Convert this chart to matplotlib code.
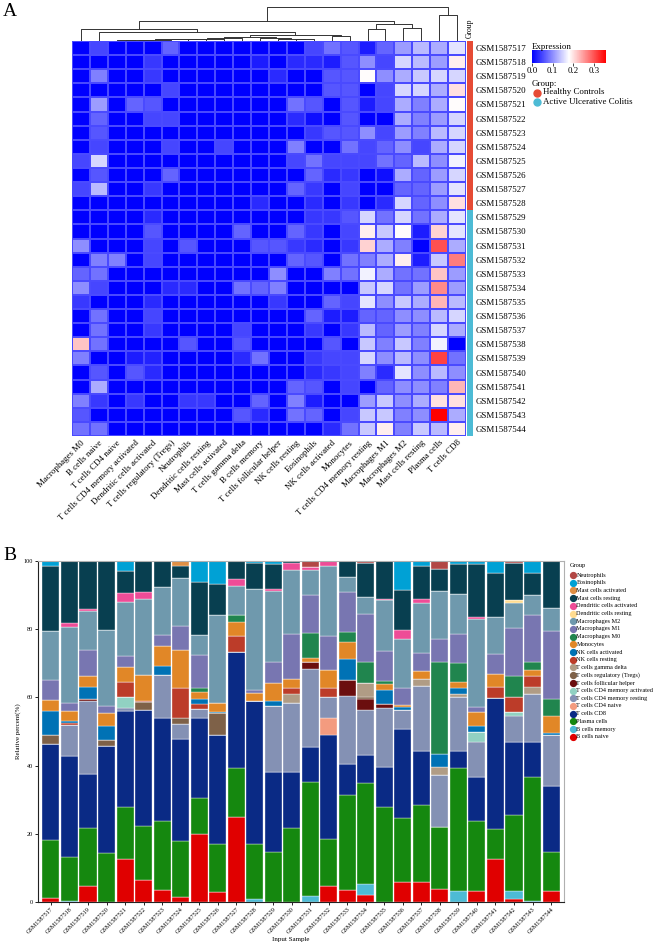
import numpy as np
import matplotlib
matplotlib.use("Agg")
import matplotlib.pyplot as plt
from matplotlib.colors import LinearSegmentedColormap, ListedColormap, Normalize
from matplotlib.cm import ScalarMappable

plt.rcParams['font.family'] = ['Liberation Serif', 'DejaVu Serif']

samples = ['GSM15875%d' % i for i in range(17, 45)]
groups = [0] * 12 + [1] * 16
group_names = ['Healthy Controls', 'Active Ulcerative Colitis']
group_colors = ['#E64B35', '#4DBBD5']

# heatmap columns, in dendrogram order
heat_cols = ['Macrophages M0', 'B cells naive', 'T cells CD4 naive',
             'T cells CD4 memory activated', 'Dendritic cells activated',
             'T cells regulatory (Tregs)', 'Neutrophils', 'Dendritic cells resting',
             'Mast cells activated', 'T cells gamma delta', 'B cells memory',
             'T cells follicular helper', 'NK cells resting', 'Eosinophils',
             'NK cells activated', 'Monocytes', 'T cells CD4 memory resting',
             'Macrophages M1', 'Macrophages M2', 'Mast cells resting',
             'Plasma cells', 'T cells CD8']

# expression (rows = samples)
heat_values = [
    [0, .05, 0, 0, 0, .07, 0, 0, 0, 0, 0, 0, 0, .05, .08, .06, .02, .07, .11, .13, .12, .16],
    [0, 0, 0, 0, .04, 0, 0, 0, 0, 0, .02, 0, .03, .03, .02, .06, .10, .05, .15, .13, .11, .19],
    [0, .09, 0, 0, .04, 0, 0, 0, 0, 0, 0, .03, 0, 0, .06, .06, .18, .10, .12, .14, .15, .15],
    [0, 0, 0, 0, 0, .05, 0, 0, 0, 0, 0, 0, 0, 0, .06, .06, 0, .05, .15, .15, .12, .20],
    [0, .11, 0, .07, .06, 0, 0, 0, 0, 0, 0, 0, .08, .06, 0, .06, .02, .05, .12, .09, .12, .18],
    [0, .07, 0, 0, .05, .05, 0, 0, 0, 0, 0, 0, .03, .01, 0, .06, 0, 0, .12, .09, .11, .15],
    [0, .06, 0, 0, 0, 0, 0, 0, 0, 0, 0, 0, 0, .04, .06, .06, .10, .05, .11, .09, .13, .15],
    [0, .05, 0, 0, 0, .05, 0, 0, .05, 0, 0, 0, .09, 0, 0, .08, .05, .07, .10, .05, .12, .15],
    [.05, .15, 0, 0, 0, 0, 0, 0, 0, 0, 0, 0, .05, .08, .05, .05, .05, .08, .07, .13, .10, .17],
    [0, .06, 0, 0, 0, .07, 0, 0, 0, 0, 0, 0, 0, .07, .03, .04, 0, .01, .12, .07, .11, .15],
    [.05, .13, 0, 0, .04, 0, 0, 0, 0, 0, 0, 0, .07, .04, 0, .05, 0, 0, .07, .07, .11, .16],
    [0, 0, 0, 0, 0, 0, 0, 0, 0, 0, .03, 0, 0, .03, 0, .04, 0, .03, .15, .07, .10, .20],
    [0, 0, 0, 0, .03, 0, 0, 0, 0, 0, 0, 0, 0, .04, .04, .06, .15, .08, .15, .08, .12, .16],
    [0, 0, 0, 0, .06, 0, 0, 0, 0, .07, 0, 0, .07, .04, 0, .05, .19, .14, .18, .02, .21, .16],
    [.10, 0, 0, 0, .05, 0, .06, 0, 0, 0, .06, .06, .04, .03, 0, .04, .21, .12, .09, 0, .30, .12],
    [0, .09, .09, 0, .05, 0, 0, 0, 0, 0, 0, 0, .07, .06, 0, .08, .09, .12, .19, .02, .14, .27],
    [.07, .08, 0, 0, 0, 0, 0, 0, 0, 0, 0, .10, 0, 0, .09, .08, .17, .12, .08, .08, .22, .11],
    [.10, .05, 0, 0, 0, .03, .03, 0, 0, .08, .07, .09, 0, 0, 0, 0, .14, .15, .08, .11, .26, .11],
    [.04, 0, 0, 0, .03, 0, 0, 0, 0, 0, 0, .04, 0, 0, .07, .05, .16, .10, .14, .12, .23, .13],
    [0, .08, 0, 0, .05, 0, 0, 0, 0, 0, 0, 0, 0, .07, .02, .02, .07, .07, .10, .10, .13, .15],
    [0, .08, 0, 0, .04, 0, 0, 0, 0, .05, 0, 0, 0, .04, 0, .04, .13, .07, .11, .09, .15, .12],
    [.22, .08, 0, 0, 0, 0, .06, 0, 0, .06, 0, 0, 0, 0, .06, 0, .14, .09, .14, .09, .17, 0],
    [.09, 0, 0, .02, .025, 0, 0, 0, 0, .03, .08, 0, 0, .04, .05, .05, .15, .10, .13, .10, .31, .08],
    [0, .06, 0, .06, .03, 0, 0, 0, 0, 0, 0, 0, 0, .03, .04, .05, .09, .03, .16, .10, .13, .10],
    [0, .12, 0, 0, 0, 0, 0, 0, 0, 0, 0, 0, .07, .06, 0, .05, 0, .07, .10, .10, .09, .23],
    [.09, .04, 0, .04, 0, 0, .04, .04, 0, 0, .07, 0, .09, .02, 0, 0, .11, .14, .10, .12, .20, .20],
    [.06, 0, 0, 0, 0, 0, 0, 0, 0, .06, .03, 0, .08, .07, 0, .05, .14, .14, .09, .10, .36, .12],
    [.08, .08, 0, 0, 0, 0, 0, 0, 0, 0, 0, 0, 0, 0, .03, .08, .14, .19, .09, .14, .13, .19],
]

# column dendrogram: (left, right, height), leaves are column indices
chain = (((((((2, 3, 1.0), 4, 1.3), 5, 1.5), 6, 1.7), 7, 2.0), 8, 2.3), 9, 2.7)
right_low = (10, (11, (12, 13, 2.0), 2.5), 3.0)
low_block = ((chain, right_low, 4.2), (14, 15, 5.3), 6.0)
left_tree = ((0, (1, low_block, 9.3), 12.0), ((16, 17, 11.7), (18, 19, 13.3), 16.7), 20.3)
col_tree = (left_tree, (20, 21, 26.0), 34.0)

# stacked bar chart: cell types bottom -> top
stack_types = ['B cells naive', 'B cells memory', 'Plasma cells', 'T cells CD8',
               'T cells CD4 naive', 'T cells CD4 memory resting',
               'T cells CD4 memory activated', 'T cells follicular helper',
               'T cells regulatory (Tregs)', 'T cells gamma delta', 'NK cells resting',
               'NK cells activated', 'Monocytes', 'Macrophages M0', 'Macrophages M1',
               'Macrophages M2', 'Dendritic cells resting', 'Dendritic cells activated',
               'Mast cells resting', 'Mast cells activated', 'Eosinophils', 'Neutrophils']
stack_colors = ['#E00000', '#4DBBD5', '#15880F', '#0A2A85', '#F39B7F', '#8491B4',
                '#91D1C2', '#6B0E0E', '#7E6148', '#B09C85', '#BC3C29', '#0072B5',
                '#E18727', '#20854E', '#7876B1', '#6F99AD', '#FFDC91', '#EE4C97',
                '#083F50', '#DF8F44', '#00A1D5', '#B24745']

fractions = [
    [1.1, 0, 17.1, 28.0, 0, 0, 0, 0, 2.7, 0, 0, 7.2, 3.1, 0, 6.0, 14.2, 0, 0, 19.1, 0, 1.4, 0],
    [0, 0.2, 12.9, 29.8, 0, 9.0, 0, 0, 0, 0, 0.5, 0.7, 2.8, 0, 2.4, 22.3, 0, 1.1, 18.3, 0, 0, 0],
    [4.8, 0, 16.8, 15.9, 0, 21.4, 0, 0.5, 0, 0, 0, 3.6, 3.3, 0, 7.6, 11.4, 0, 0.6, 14.1, 0, 0, 0],
    [0, 0, 14.3, 31.4, 0, 0, 0, 0, 1.8, 0, 0, 4.1, 3.7, 0, 2.3, 22.3, 0, 0, 20.1, 0, 0, 0],
    [12.5, 0, 15.3, 28.3, 0, 0.7, 3.4, 0, 0, 0, 4.3, 0, 4.3, 0, 3.2, 16.1, 0, 2.4, 6.6, 0, 2.9, 0],
    [6.4, 0, 15.9, 34.0, 0, 0, 0, 0, 2.3, 0, 0.4, 0, 7.7, 0, 0, 22.3, 0, 2.0, 9.0, 0, 0, 0],
    [3.5, 0, 20.2, 30.3, 0, 12.7, 0, 0, 0, 0, 0, 2.6, 5.8, 0, 3.2, 14.2, 0, 0, 7.5, 0, 0, 0],
    [1.6, 0, 16.3, 29.9, 0, 4.5, 0, 0, 1.6, 0, 8.9, 0, 11.2, 0, 6.9, 14.0, 0, 0, 3.5, 1.5, 0, 0],
    [19.8, 0, 10.7, 23.5, 0, 2.6, 0, 0, 0, 0, 1.5, 1.4, 2.1, 1.3, 9.5, 5.8, 0, 0, 15.5, 0, 6.3, 0],
    [2.8, 0, 14.2, 32.0, 0, 0, 0, 0, 6.3, 0, 0, 0.5, 2.5, 0, 0, 25.8, 0, 0, 9.1, 0, 6.9, 0],
    [24.9, 0, 14.3, 34.2, 0, 0, 0, 0, 0, 0, 4.6, 0, 4.1, 2.0, 0, 8.6, 0, 2.0, 5.3, 0, 0, 0],
    [0, 0.8, 16.2, 42.0, 0, 0, 0, 0, 0, 0, 0, 0, 2.2, 0, 1.1, 29.4, 0, 0, 7.8, 0, 0.5, 0],
    [0, 0, 14.8, 23.4, 0, 19.4, 0, 0, 0, 0, 0, 1.4, 5.3, 0, 6.2, 20.8, 0, 0.4, 7.4, 0, 0.9, 0],
    [0, 0, 21.6, 16.6, 0, 20.2, 0, 0, 0, 2.6, 1.8, 0, 2.6, 0, 13.1, 18.8, 0, 2.0, 0.7, 0, 0, 0],
    [0, 1.9, 33.2, 10.4, 0, 22.7, 0, 2.3, 0, 0, 0, 0, 1.2, 7.1, 11.2, 7.3, 0, 1.0, 0, 0, 0, 1.7],
    [4.8, 0, 13.6, 30.5, 5.1, 6.2, 0, 0, 0, 0, 2.6, 0, 5.2, 0, 10.0, 20.5, 0, 1.5, 0, 0, 0, 0],
    [3.6, 0, 27.9, 9.1, 0, 19.7, 0, 4.9, 0, 0, 0, 6.1, 4.8, 3.0, 11.7, 4.5, 0, 0, 4.8, 0, 0, 0],
    [2.0, 3.2, 29.6, 8.3, 0, 13.2, 0, 3.1, 0.6, 4.1, 0, 0, 0, 6.2, 14.3, 4.7, 0, 0, 10.2, 0, 0, 0.5],
    [0, 0, 27.8, 11.7, 0, 17.5, 0, 1.2, 0, 0, 0, 3.9, 1.8, 0.9, 8.8, 14.9, 0, 0.3, 11.2, 0, 0, 0],
    [6.0, 0, 18.5, 26.2, 0, 5.6, 0, 0, 0, 0, 0, 0.8, 0.7, 0, 5.1, 14.3, 0, 2.6, 11.6, 0, 8.7, 0],
    [5.8, 0, 22.6, 16.0, 0, 18.9, 0, 0, 0, 2.1, 0, 0, 2.3, 0, 5.4, 14.5, 0, 1.2, 9.7, 0, 1.5, 0],
    [3.8, 0, 18.1, 0, 0, 15.2, 0, 0, 0, 2.6, 0, 3.7, 0, 26.9, 6.7, 14.3, 0, 0, 6.4, 0, 0, 2.3],
    [0, 3.3, 35.9, 5.2, 0, 15.6, 0, 0, 0, 0.9, 0, 1.9, 1.6, 5.8, 8.3, 11.7, 0, 0, 8.9, 0, 0.9, 0],
    [3.1, 0, 20.6, 13.0, 0, 10.1, 3.0, 0, 0, 0, 0, 1.7, 4.1, 0, 1.5, 25.9, 0, 0.5, 15.5, 0, 1.0, 0],
    [12.6, 0, 8.9, 38.2, 0, 0, 0, 0, 0, 0, 3.4, 0, 3.9, 0, 5.6, 11.1, 0, 0, 12.9, 0, 3.4, 0],
    [1.0, 2.3, 22.3, 21.2, 0, 7.7, 1.1, 0, 0, 0, 4.6, 0, 0, 6.1, 14.1, 7.4, 0.8, 0, 10.9, 0, 0, 0.5],
    [0, 0.4, 36.2, 10.2, 0, 14.2, 0, 0, 0, 2.1, 3.3, 0, 1.6, 2.3, 14.0, 5.7, 0, 0, 6.6, 0, 3.4, 0],
    [3.2, 0, 11.4, 19.5, 0, 15.0, 0, 0, 0, 0, 0, 0.6, 4.9, 4.8, 20.0, 6.8, 0, 0, 13.9, 0, 0, 0],
]

W, H = 654, 944
fig = plt.figure(figsize=(W / 100, H / 100), dpi=100)


def box(x0, y0, x1, y1):
    return [x0 / W, 1 - y1 / H, (x1 - x0) / W, (y1 - y0) / H]


# ---------------- panel A: heatmap ----------------
cmap = LinearSegmentedColormap.from_list('bwr_ph', ['#0000ff', '#ffffff', '#ff0000'])
norm = Normalize(0, 0.357)
data = np.array(heat_values)
nr, nc = data.shape

ax = fig.add_axes(box(72, 41, 466, 436))
ax.pcolormesh(np.arange(nc + 1) - 0.5, np.arange(nr + 1) - 0.5, data, cmap=cmap, norm=norm,
              edgecolors='#4a4aff', linewidth=0.1, antialiased=False)
ax.set_xlim(-0.5, nc - 0.5)
ax.set_ylim(nr - 0.5, -0.5)
ax.set_yticks([])
ax.set_xticks(range(nc))
ax.set_xticklabels(heat_cols, rotation=45, ha='right', rotation_mode='anchor', fontsize=6.4)
ax.tick_params(axis='x', length=0, pad=2)
for s in ax.spines.values():
    s.set_visible(False)

# dendrogram
axd = fig.add_axes(box(72, 4, 466, 41))


def draw_tree(node):
    if isinstance(node, int):
        return node, 0.0
    left, right, h = node
    xl, hl = draw_tree(left)
    xr, hr = draw_tree(right)
    axd.plot([xl, xl, xr, xr], [hl, h, h, hr], color='#333333', lw=0.7)
    return (xl + xr) / 2, h


draw_tree(col_tree)
axd.set_xlim(-0.5, nc - 0.5)
axd.set_ylim(0, 37)
axd.axis('off')

# group annotation
axg = fig.add_axes(box(466.5, 41, 473, 436))
axg.pcolormesh([0, 1], np.arange(nr + 1) - 0.5, np.array(groups).reshape(-1, 1),
               cmap=ListedColormap(group_colors), vmin=0, vmax=1)
axg.set_xlim(0, 1)
axg.set_ylim(nr - 0.5, -0.5)
axg.set_xticks([])
axg.yaxis.tick_right()
axg.set_yticks(range(nr))
axg.set_yticklabels(samples, fontsize=6.4)
axg.tick_params(axis='y', length=0, pad=2)
for s in axg.spines.values():
    s.set_visible(False)
fig.text(469.5 / W, 1 - 38 / H, 'Group', rotation=90, ha='center', va='bottom', fontsize=5.5)

# expression colour key
cax = fig.add_axes(box(532, 50, 606, 63))
cb = fig.colorbar(ScalarMappable(norm=norm, cmap=cmap), cax=cax, orientation='horizontal',
                  ticks=[0, 0.1, 0.2, 0.3])
cb.outline.set_visible(False)
cb.ax.set_xticklabels(['0.0', '0.1', '0.2', '0.3'])
cb.ax.tick_params(labelsize=6.4, length=2, width=0.5, pad=1)
fig.text(532 / W, 1 - 47 / H, 'Expression', fontsize=6.4, ha='left', va='center')
fig.text(532 / W, 1 - 84 / H, 'Group:', fontsize=6.4, ha='left', va='center')
for k, name in enumerate(group_names):
    yy = 1 - (92.5 + 9 * k) / H
    fig.add_artist(plt.Line2D([536.5 / W], [yy], marker='o', ms=5, color=group_colors[k],
                              lw=0, transform=fig.transFigure))
    fig.text(543 / W, yy, name, fontsize=6.4, ha='left', va='center')

fig.text(3 / W, 1 - 11 / H, 'A', fontsize=14, ha='left', va='center')

# ---------------- panel B: stacked bars ----------------
axb = fig.add_axes(box(38, 561, 564, 902))
frac = np.array(fractions)
x = np.arange(len(samples))
bottom = np.zeros(len(samples))
for j, name in enumerate(stack_types):
    axb.bar(x, frac[:, j], bottom=bottom, width=0.92, color=stack_colors[j],
            edgecolor='white', linewidth=0.25, label=name)
    bottom += frac[:, j]
axb.set_xlim(-0.7, len(samples) - 0.3)
axb.set_ylim(0, 100)
axb.set_yticks([0, 20, 40, 60, 80, 100])
axb.tick_params(axis='y', labelsize=4.5, length=2.5, width=0.6, pad=1)
axb.set_xticks(x)
axb.set_xticklabels(samples, rotation=45, ha='right', rotation_mode='anchor', fontsize=4.4)
axb.tick_params(axis='x', length=2, width=0.6, pad=1.5)
for side in ['left', 'bottom']:
    axb.spines[side].set_linewidth(0.8)
    axb.spines[side].set_color('#222222')
for side in ['top', 'right']:
    axb.spines[side].set_linewidth(0.8)
    axb.spines[side].set_color('#b0b0b0')
fig.text(18 / W, 1 - 731 / H, 'Relative percent(%)', rotation=90, ha='center', va='center',
         fontsize=5)
fig.text(291 / W, 1 - 940 / H, 'Input Sample', ha='center', va='center', fontsize=5)

# legend, top entry first
fig.text(570 / W, 1 - 566 / H, 'Group', fontsize=4.6, ha='left', va='center')
legend_order = list(range(len(stack_types)))[::-1]
for k, j in enumerate(legend_order):
    yy = 1 - (575 + 7.7 * k) / H
    fig.add_artist(plt.Line2D([573 / W], [yy], marker='o', ms=4.2, color=stack_colors[j],
                              lw=0, transform=fig.transFigure))
    fig.text(576.5 / W, yy, stack_types[j], fontsize=4.5, ha='left', va='center')

fig.text(3 / W, 1 - 555 / H, 'B', fontsize=14, ha='left', va='center')

fig.savefig('out.png', dpi=100)
